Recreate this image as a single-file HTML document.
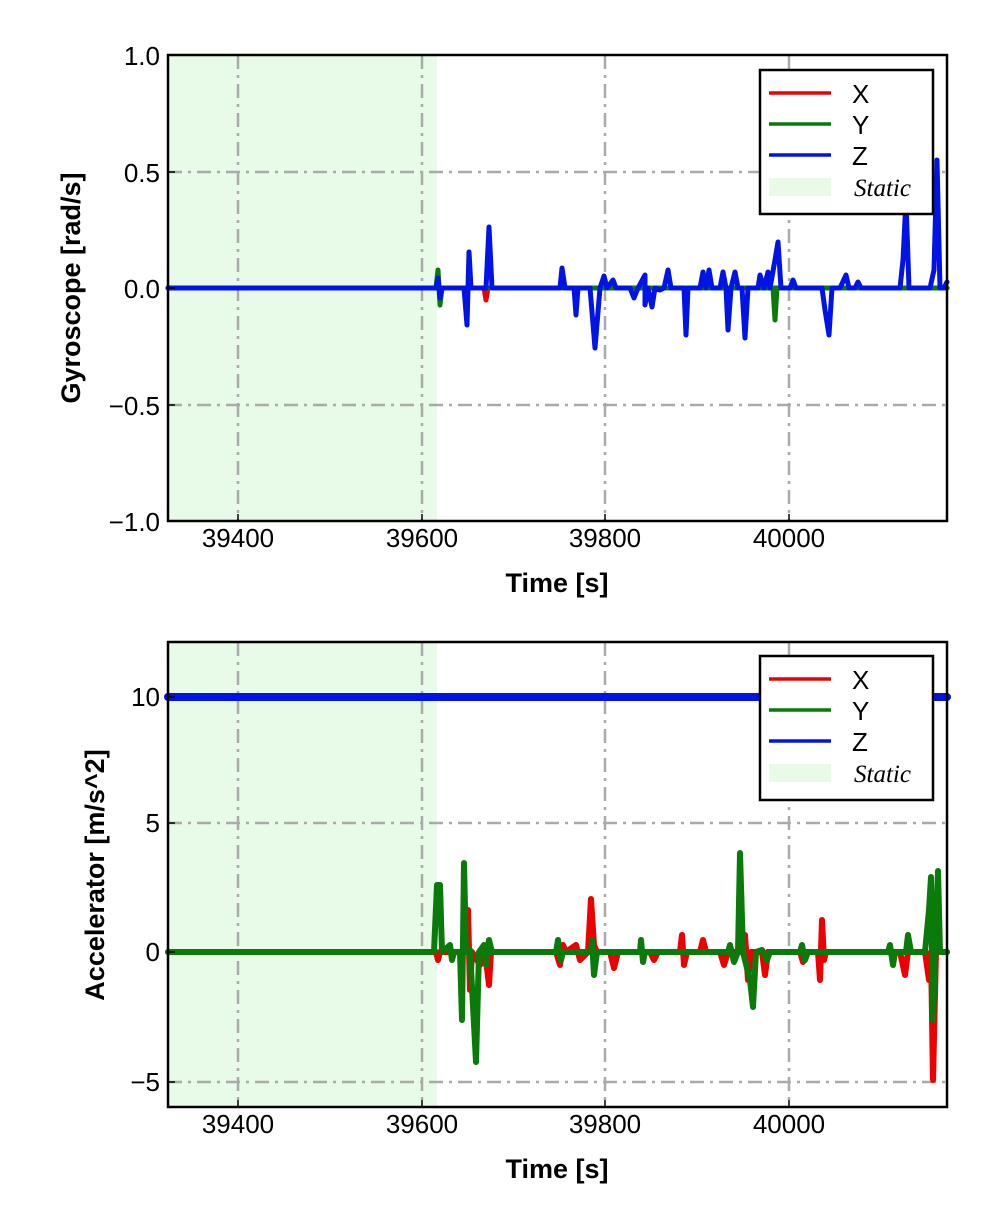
<!DOCTYPE html>
<html><head><meta charset="utf-8"><style>body{margin:0;background:#fff}svg{display:block}text{font-family:"Liberation Sans",sans-serif}</style></head><body>
<svg width="992" height="1228" viewBox="0 0 992 1228" xmlns="http://www.w3.org/2000/svg">
<!-- TOP -->
<rect x="168" y="55" width="269" height="466" fill="#e8fbe8"/>
<g stroke="#aaa" stroke-width="2.5" stroke-dasharray="14,6,3,6" fill="none">
<line x1="238" y1="55" x2="238" y2="521"/><line x1="422" y1="55" x2="422" y2="521"/><line x1="605" y1="55" x2="605" y2="521"/><line x1="789" y1="55" x2="789" y2="521"/>
<line x1="168" y1="172" x2="947" y2="172"/><line x1="168" y1="288" x2="947" y2="288"/><line x1="168" y1="405" x2="947" y2="405"/>
</g>
<g fill="none" stroke-width="5" stroke-linejoin="round" stroke-linecap="round">
<polyline stroke="#e00" points="168,288 484,288 486,300 488,288 947,288"/>
<polyline stroke="#0a7a0a" points="168,288 436,288 438,270 440,305 442,288 773,288 775,320 777,288 947,288"/>
<polyline stroke="#0014e6" points="168,288 436,288 438,278 440,298 442,288 464,288 467,325 469,252 471,288 486,288 489,227 492,288 560,288 562,268 565,288 574,288 576,315 578,288 590,288 595,348 600,288 604,276 607,288 613,280 616,288 630,288 634,298 638,288 645,275 645,305 648,288 652,307 655,288 660,290 664,288 668,270 671,288 684,288 686,335 688,288 700,288 703,272 706,288 709,270 712,288 720,288 723,272 726,288 728,330 731,288 735,272 738,288 742,288 745,338 748,288 758,288 760,275 764,288 768,272 770,288 775,260 778,242 781,288 790,288 793,280 796,288 822,288 825,310 829,335 832,288 840,288 846,275 849,288 855,288 858,282 861,288 900,288 903,260 906,200 909,288 930,288 934,270 937,160 940,288 944,288 947,282"/>
</g>
<rect x="168" y="55" width="779" height="466" fill="none" stroke="#000" stroke-width="2.5"/>
<g stroke="#000" stroke-width="1.5"><line x1="168" y1="172" x2="175" y2="172"/><line x1="168" y1="288" x2="175" y2="288"/><line x1="168" y1="405" x2="175" y2="405"/>
<line x1="238" y1="521" x2="238" y2="514"/><line x1="422" y1="521" x2="422" y2="514"/><line x1="605" y1="521" x2="605" y2="514"/><line x1="789" y1="521" x2="789" y2="514"/></g>
<g font-size="26" text-anchor="end"><text x="160" y="65">1.0</text><text x="160" y="182">0.5</text><text x="160" y="298">0.0</text><text x="160" y="415">−0.5</text><text x="160" y="531">−1.0</text></g>
<g font-size="26" text-anchor="middle"><text x="238" y="547">39400</text><text x="422" y="547">39600</text><text x="605" y="547">39800</text><text x="789" y="547">40000</text></g>
<text x="557" y="592" font-size="27" font-weight="bold" text-anchor="middle">Time [s]</text>
<text transform="translate(80,288) rotate(-90)" font-size="27" font-weight="bold" text-anchor="middle">Gyroscope [rad/s]</text>
<rect x="760" y="70" width="173" height="144" fill="#fff" stroke="#000" stroke-width="2.5"/>
<g stroke-width="3.5"><line x1="769" y1="93" x2="831" y2="93" stroke="#e00"/><line x1="769" y1="124" x2="831" y2="124" stroke="#0a7a0a"/><line x1="769" y1="155" x2="831" y2="155" stroke="#0014e6"/></g>
<rect x="769" y="178" width="62" height="18" fill="#e8fbe8"/>
<g font-size="26"><text x="852" y="103">X</text><text x="852" y="134">Y</text><text x="852" y="165">Z</text></g>
<text x="854" y="196" font-size="25" font-style="italic" style="font-family:'Liberation Serif',serif">Static</text>

<!-- BOTTOM -->
<rect x="168" y="642" width="269" height="465" fill="#e8fbe8"/>
<g stroke="#aaa" stroke-width="2.5" stroke-dasharray="14,6,3,6" fill="none">
<line x1="238" y1="642" x2="238" y2="1107"/><line x1="422" y1="642" x2="422" y2="1107"/><line x1="605" y1="642" x2="605" y2="1107"/><line x1="789" y1="642" x2="789" y2="1107"/>
<line x1="168" y1="697" x2="947" y2="697"/><line x1="168" y1="823" x2="947" y2="823"/><line x1="168" y1="952" x2="947" y2="952"/><line x1="168" y1="1082" x2="947" y2="1082"/>
</g>
<g fill="none" stroke-linejoin="round" stroke-linecap="round">
<line x1="168" y1="697" x2="947" y2="697" stroke="#0014e6" stroke-width="8"/>
<polyline stroke="#e00" stroke-width="6" points="168,952 436,952 438,960 440,952 465,952 468,910 470,990 472,952 480,965 485,952 489,985 491,952 556,952 560,965 563,945 566,952 576,945 580,960 588,952 591,899 594,945 597,952 610,952 614,968 618,952 650,952 654,960 658,952 680,952 682,935 684,965 687,952 700,952 703,940 706,952 720,952 724,965 728,952 740,952 745,935 748,980 751,952 762,952 765,975 768,952 800,952 803,962 806,952 818,952 820,980 822,920 824,960 826,952 850,952 900,952 905,975 908,952 925,952 929,980 931,952 933,1080 936,952 947,952"/>
<polyline stroke="#0a7a0a" stroke-width="6" points="168,952 434,952 437,885 440,885 442,952 450,945 452,960 454,952 460,952 462,1020 464,863 466,952 470,950 476,1062 479,952 484,945 486,965 489,940 492,952 556,952 558,940 561,960 563,952 591,952 592,940 594,975 597,952 640,952 641,940 643,962 645,952 728,952 730,945 734,962 738,952 740,853 743,952 750,980 753,1007 756,952 762,950 767,960 770,952 800,952 802,945 805,960 808,952 867,952 888,952 890,945 893,965 895,952 906,952 908,935 911,952 925,952 929,910 931,877 933,1020 935,955 938,871 940,952 947,952"/>
</g>
<rect x="168" y="642" width="779" height="465" fill="none" stroke="#000" stroke-width="2.5"/>
<g stroke="#000" stroke-width="1.5"><line x1="168" y1="697" x2="175" y2="697"/><line x1="168" y1="823" x2="175" y2="823"/><line x1="168" y1="952" x2="175" y2="952"/><line x1="168" y1="1082" x2="175" y2="1082"/>
<line x1="238" y1="1107" x2="238" y2="1100"/><line x1="422" y1="1107" x2="422" y2="1100"/><line x1="605" y1="1107" x2="605" y2="1100"/><line x1="789" y1="1107" x2="789" y2="1100"/></g>
<g font-size="26" text-anchor="end"><text x="160" y="706">10</text><text x="160" y="832">5</text><text x="160" y="961">0</text><text x="160" y="1091">−5</text></g>
<g font-size="26" text-anchor="middle"><text x="238" y="1133">39400</text><text x="422" y="1133">39600</text><text x="605" y="1133">39800</text><text x="789" y="1133">40000</text></g>
<text x="557" y="1178" font-size="27" font-weight="bold" text-anchor="middle">Time [s]</text>
<text transform="translate(104,875) rotate(-90)" font-size="27" font-weight="bold" text-anchor="middle">Accelerator [m/s^2]</text>
<rect x="760" y="656" width="173" height="144" fill="#fff" stroke="#000" stroke-width="2.5"/>
<g stroke-width="3.5"><line x1="769" y1="679" x2="831" y2="679" stroke="#e00"/><line x1="769" y1="710" x2="831" y2="710" stroke="#0a7a0a"/><line x1="769" y1="741" x2="831" y2="741" stroke="#0014e6"/></g>
<rect x="769" y="764" width="62" height="18" fill="#e8fbe8"/>
<g font-size="26"><text x="852" y="689">X</text><text x="852" y="720">Y</text><text x="852" y="751">Z</text></g>
<text x="854" y="782" font-size="25" font-style="italic" style="font-family:'Liberation Serif',serif">Static</text>
</svg>
</body></html>
